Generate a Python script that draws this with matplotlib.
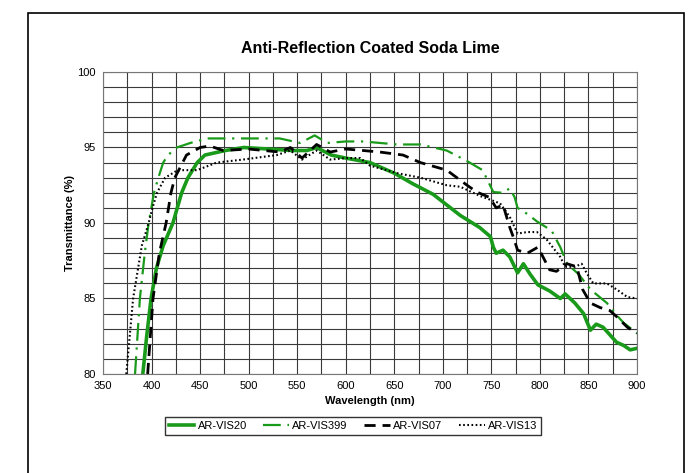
import matplotlib
matplotlib.use("Agg")
import matplotlib.pyplot as plt
from matplotlib.patches import Rectangle
import numpy as np

plt.rcParams['font.family'] = ['Liberation Sans', 'DejaVu Sans']

# AR-VIS20 (solid green)
wl_vis20 = [391, 395, 399.5, 405, 412, 422, 431, 437.5, 447, 455, 476, 495, 520, 545, 560, 570, 585, 600,
            625, 650, 669, 690, 704, 718, 738, 749, 752, 755, 762, 769, 777, 783, 790, 798, 810, 821, 826,
            836, 845, 852, 858, 865, 872, 879, 886, 893, 900]
t_vis20 = [80.0, 82.5, 85.0, 87.0, 88.5, 90.0, 92.0, 93.0, 94.0, 94.5, 94.8, 95.0, 94.9, 94.8, 94.8, 95.0, 94.5, 94.3,
           94.0, 93.3, 92.6, 91.9, 91.2, 90.5, 89.7, 89.1, 88.4, 88.0, 88.2, 87.75, 86.7, 87.3, 86.6, 85.9, 85.5, 85.0, 85.3,
           84.7, 84.0, 82.9, 83.3, 83.1, 82.6, 82.1, 81.9, 81.6, 81.7]

# AR-VIS399 (green dash-dot)
wl_vis399 = [383, 388, 393, 397, 402.5, 407, 412, 417, 426, 440, 457, 480, 500, 532, 553, 568, 581, 600, 618,
             653, 677, 704, 725, 741, 752, 762, 769, 774, 777, 787, 797, 812, 821, 828, 840, 852, 869, 879, 886, 900]
t_vis399 = [80.0, 85.0, 88.0, 90.0, 92.0, 93.0, 94.0, 94.5, 95.0, 95.3, 95.6, 95.6, 95.6, 95.6, 95.3, 95.8, 95.3, 95.4, 95.4,
            95.2, 95.2, 94.8, 94.1, 93.5, 92.05, 92.0, 92.3, 91.7, 91.0, 90.6, 90.1, 89.5, 88.4, 87.3, 86.6, 85.6, 84.7, 83.9, 83.4, 82.7]

# AR-VIS07 (black dashed)
wl_vis07 = [396, 401.5, 408, 415, 420, 424, 432, 436, 450, 460, 474, 500, 532, 543, 555, 570, 584, 600, 618, 635,
            659, 677, 704, 725, 735, 748, 755, 762, 769, 773, 777, 787, 798, 810, 817, 828, 838, 844, 852, 862,
            872, 879, 890, 900]
t_vis07 = [80.0, 85.0, 88.0, 90.0, 92.0, 93.0, 94.0, 94.5, 95.0, 95.1, 94.8, 94.9, 94.7, 95.0, 94.3, 95.2, 94.7, 94.9, 94.8, 94.7,
           94.5, 94.0, 93.5, 92.5, 92.05, 91.7, 91.0, 91.2, 89.7, 89.0, 88.2, 88.0, 88.4, 86.9, 86.8, 87.3, 87.1, 85.6, 84.7, 84.4,
           84.2, 83.8, 83.1, 82.7]

# AR-VIS13 (black dotted)
wl_vis13 = [374, 381, 390, 397, 401, 405.6, 414, 427, 447, 467, 494, 529, 543, 555, 570, 584, 600, 615, 625,
            653, 677, 704, 718, 738, 759, 769, 777, 787, 797, 807, 821, 826, 836, 843, 848, 855, 869, 879, 890, 900]
t_vis13 = [80.0, 85.0, 88.5, 90.0, 91.0, 92.0, 93.0, 93.5, 93.5, 94.0, 94.2, 94.5, 94.8, 94.2, 94.8, 94.2, 94.3, 94.3, 93.8,
           93.3, 93.0, 92.5, 92.4, 91.8, 91.3, 90.4, 89.3, 89.4, 89.4, 88.9, 87.75, 87.1, 87.1, 87.3, 86.7, 86.0, 86.0, 85.6, 85.1, 85.0]

title = "Anti-Reflection Coated Soda Lime"
xlabel = "Wavelength (nm)"
ylabel = "Transmittance (%)"
x_ticks = list(range(350, 901, 50))
y_ticks = [80, 85, 90, 95, 100]

W, H = 693, 473
fig = plt.figure(figsize=(W / 100, H / 100), dpi=100)
ax = fig.add_axes([103 / W, 1 - 374 / H, (637 - 103) / W, (374 - 72) / H])

green = '#1a9a1a'
l1, = ax.plot(wl_vis20, t_vis20, color=green, lw=2.6, solid_joinstyle='round', label='AR-VIS20')
l2, = ax.plot(wl_vis399, t_vis399, color=green, lw=1.6, dashes=(8, 3, 1, 3), label='AR-VIS399')
l3, = ax.plot(wl_vis07, t_vis07, color='black', lw=2.0, dashes=(4, 2.5), label='AR-VIS07')
l4, = ax.plot(wl_vis13, t_vis13, color='black', lw=1.5, dashes=(0.8, 1.2), label='AR-VIS13')

ax.set_xlim(350, 900)
ax.set_ylim(80, 100)
ax.set_xticks(x_ticks)
ax.set_yticks(y_ticks)
ax.set_xticks(np.arange(350, 901, 25), minor=True)
ax.set_yticks(np.arange(80, 101, 1), minor=True)
ax.grid(which='both', color='#3a3a3a', lw=0.8)
ax.set_axisbelow(True)
ax.tick_params(which='both', length=0, labelsize=8, pad=5)
for s in ax.spines.values():
    s.set_color('#777777')
    s.set_linewidth(0.8)

ax.set_title(title, fontsize=11.5, fontweight='bold', pad=14)
ax.set_xlabel(xlabel, fontsize=8, fontweight='bold', labelpad=4)
ax.set_ylabel(ylabel, fontsize=8, fontweight='bold', labelpad=2)

leg = fig.legend(handles=[l1, l2, l3, l4], loc='center', bbox_to_anchor=(353 / W, 1 - 426 / H),
                 ncol=4, fontsize=8, frameon=True, fancybox=False, edgecolor='black',
                 handlelength=2.3, columnspacing=1.5, handletextpad=0.3, borderpad=0.35)
leg.get_frame().set_linewidth(1.0)

rect = Rectangle((28 / W, -0.1), (684 - 28) / W, 1.1 - 13 / H, transform=fig.transFigure,
                 fill=False, edgecolor='black', lw=1.2, clip_on=False)
fig.patches.append(rect)

fig.savefig('out.png', dpi=100)
